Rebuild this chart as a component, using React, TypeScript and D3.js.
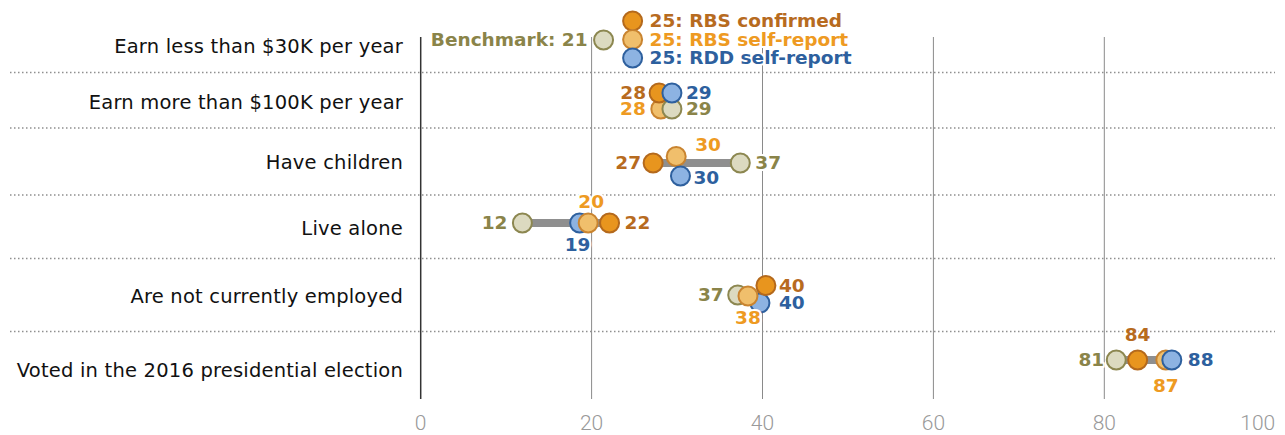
import React, { useRef, useEffect } from 'react';
import * as d3 from 'd3';

// rows, top to bottom
const categories = [
  'Earn less than $30K per year',
  'Earn more than $100K per year',
  'Have children',
  'Live alone',
  'Are not currently employed',
  'Voted in the 2016 presidential election',
];

// percent of respondents
const benchmark = [21.4, 29.4, 37.4, 11.9, 37.1, 81.4];
const rbsConfirmed = [24.8, 27.9, 27.2, 22.1, 40.4, 83.9];
const rbsSelfReport = [24.8, 28.1, 29.9, 19.6, 38.3, 87.2];
const rddSelfReport = [24.8, 29.4, 30.4, 18.6, 39.7, 87.9];

const seriesNames = ['Benchmark', 'RBS confirmed', 'RBS self-report', 'RDD self-report'];
const xTicks = [0, 20, 40, 60, 80, 100];

const colors = [
  { fill: '#dcdac0', stroke: '#8c8750', text: '#8a8449' },
  { fill: '#e8951e', stroke: '#b4691c', text: '#b76b1f' },
  { fill: '#f0bf6c', stroke: '#c98430', text: '#ee9a22' },
  { fill: '#8db3e2', stroke: '#2e609e', text: '#2d609e' },
];

// hand placed layout: rows are not evenly spaced in the original
const rowY = [40, 101, 163, 223, 295, 360];
const labelY = [46, 102, 162, 228, 296, 370];
const sepY = [72.5, 128, 195, 258.5, 331.5];

// per row, per series: [dot dy, label dx, label dy, anchor]
const marks: [number, number, number, string][][] = [
  [[0, -16, 0, 'end'], [-19, 17, 0, 'start'], [-0.5, 17, 0, 'start'], [18, 17, 0, 'start']],
  [[8, 14, 0, 'start'], [-8, -13, 0, 'end'], [8, -15, 0, 'end'], [-8, 14, 0, 'start']],
  [[0, 15, 0, 'start'], [0, -12, 0, 'end'], [-6.5, 19, -12, 'start'], [13, 13, 2, 'start']],
  [[0, -15, 0, 'end'], [0, 15, 0, 'start'], [0, 3, -21, 'middle'], [0, -2, 22, 'middle']],
  [[0, -14, 0, 'end'], [-9.5, 13, 0, 'start'], [1, 0, 22, 'middle'], [8, 19, 0, 'start']],
  [[0, -12, 0, 'end'], [0, 0, -25, 'middle'], [0, 0, 26, 'middle'], [0, 16, 0, 'start']],
];
const drawOrder = [
  [0, 1, 2, 3],
  [2, 0, 1, 3],
  [0, 1, 2, 3],
  [0, 3, 2, 1],
  [0, 3, 2, 1],
  [0, 1, 2, 3],
];

const width = 1285;
const height = 435;
const font = "'DejaVu Sans', sans-serif";

function DotChart() {
  const svgRef = useRef<SVGSVGElement>(null);

  useEffect(() => {
    const svg = d3.select(svgRef.current);
    svg.selectAll('*').remove();

    const series = [benchmark, rbsConfirmed, rbsSelfReport, rddSelfReport];

    const x = d3.scaleLinear().domain([0, 100]).range([420.7, 1275.2]);
    const gridTop = 37;
    const gridBottom = 399;

    // grid
    svg.append('g')
      .selectAll('line')
      .data(xTicks.filter(d => d > 0 && d < 100))
      .join('line')
      .attr('x1', d => x(d)).attr('x2', d => x(d))
      .attr('y1', gridTop).attr('y2', gridBottom)
      .attr('stroke', '#8a8a8a')
      .attr('stroke-width', 1);

    svg.append('line')
      .attr('x1', x(0)).attr('x2', x(0))
      .attr('y1', gridTop).attr('y2', gridBottom)
      .attr('stroke', '#333')
      .attr('stroke-width', 1.5);

    // dotted separators
    svg.append('g')
      .selectAll('line')
      .data(sepY)
      .join('line')
      .attr('x1', 10).attr('x2', 1275)
      .attr('y1', d => d).attr('y2', d => d)
      .attr('stroke', '#8f8f8f')
      .attr('stroke-width', 1.5)
      .attr('stroke-dasharray', '1.5 2.5');

    // tick labels
    svg.append('g')
      .selectAll('text')
      .data(xTicks)
      .join('text')
      .attr('x', d => x(d))
      .attr('y', 430)
      .attr('text-anchor', d => (d === 100 ? 'end' : 'middle'))
      .attr('font-family', "Roboto, sans-serif")
      .attr('font-weight', 300)
      .attr('font-size', 21)
      .attr('fill', '#999')
      .text(d => d);

    // row labels
    svg.append('g')
      .selectAll('text')
      .data(categories)
      .join('text')
      .attr('x', 403)
      .attr('y', (d, i) => labelY[i])
      .attr('dy', '0.35em')
      .attr('text-anchor', 'end')
      .attr('font-family', font)
      .attr('font-size', 19.5)
      .attr('letter-spacing', 0.2)
      .attr('fill', '#111')
      .text(d => d);

    // connectors (not on the legend row)
    svg.append('g')
      .selectAll('line')
      .data(categories.map((c, i) => i).filter(i => i > 0))
      .join('line')
      .attr('x1', i => x(d3.min(series, s => s[i]) as number))
      .attr('x2', i => x(d3.max(series, s => s[i]) as number))
      .attr('y1', i => rowY[i]).attr('y2', i => rowY[i])
      .attr('stroke', '#8f8f8f')
      .attr('stroke-width', 8);

    const pts = categories.flatMap((c, i) =>
      drawOrder[i].map(k => {
        const [dotDy, lx, ly, anchor] = marks[i][k];
        const v = series[k][i];
        const cx = x(v);
        const cy = rowY[i] + dotDy;
        let label = String(Math.round(v));
        if (i === 0) label = k === 0 ? `Benchmark: ${Math.round(v)}` : `${Math.round(v)}: ${seriesNames[k]}`;
        return { k, cx, cy, lx: cx + lx, ly: cy + ly, anchor, label };
      })
    );

    svg.append('g')
      .selectAll('circle')
      .data(pts)
      .join('circle')
      .attr('cx', d => d.cx)
      .attr('cy', d => d.cy)
      .attr('r', 9.5)
      .attr('fill', d => colors[d.k].fill)
      .attr('stroke', d => colors[d.k].stroke)
      .attr('stroke-width', 2);

    svg.append('g')
      .selectAll('text')
      .data(pts)
      .join('text')
      .attr('x', d => d.lx)
      .attr('y', d => d.ly)
      .attr('dy', '0.35em')
      .attr('text-anchor', d => d.anchor)
      .attr('font-family', font)
      .attr('font-weight', 700)
      .attr('font-size', 18.5)
      .attr('fill', d => colors[d.k].text)
      .attr('stroke', '#fff')
      .attr('stroke-width', 4)
      .attr('stroke-linejoin', 'round')
      .attr('paint-order', 'stroke')
      .text(d => d.label);
  }, []);

  return (
    <svg
      ref={svgRef}
      width={width}
      height={height}
      style={{ position: 'absolute', left: 0, top: 0, background: '#fff' }}
    />
  );
}

export default function App() {
  return <DotChart />;
}
